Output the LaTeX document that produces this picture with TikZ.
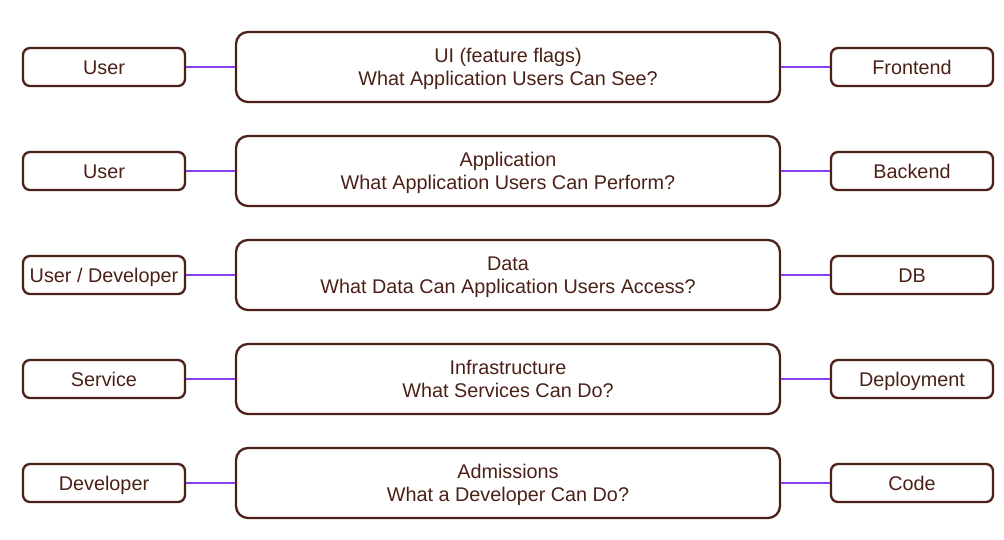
\documentclass[tikz,border=0pt]{standalone}
\usepackage{fontspec}
\setmainfont{Liberation Sans}
\definecolor{brn}{HTML}{4A2017}
\definecolor{prp}{HTML}{8A3FF5}
\begin{document}
\begin{tikzpicture}[x=1pt,y=-1pt,
  sidebox/.style={draw=brn,line width=2.3pt,rounded corners=7pt,minimum width=162pt,minimum height=38pt,inner sep=0pt,text height=14.2pt,text depth=0pt,text=brn,font=\fontsize{19.8}{23}\selectfont},
  midbox/.style={draw=brn,line width=2.3pt,rounded corners=12pt,minimum width=544pt,minimum height=70pt,inner sep=0pt,text depth=0pt,text=brn,align=center,font=\fontsize{19.8}{23}\selectfont},
  link/.style={draw=prp,line width=2.8pt}]
\useasboundingbox (0,0) rectangle (1004,540);
\node[sidebox] (l1) at (104,67) {User};
\node[midbox] (m1) at (508,67) {UI (feature flags)\\What Application Users Can See?};
\node[sidebox] (r1) at (912,67) {Frontend};
\node[sidebox] (l2) at (104,171) {User};
\node[midbox] (m2) at (508,171) {Application\\What Application Users Can Perform?};
\node[sidebox] (r2) at (912,171) {Backend};
\node[sidebox] (l3) at (104,275) {User / Developer};
\node[midbox] (m3) at (508,275) {Data\\What Data Can Application Users Access?};
\node[sidebox] (r3) at (912,275) {DB};
\node[sidebox] (l4) at (104,379) {Service};
\node[midbox] (m4) at (508,379) {Infrastructure\\What Services Can Do?};
\node[sidebox] (r4) at (912,379) {Deployment};
\node[sidebox] (l5) at (104,483) {Developer};
\node[midbox] (m5) at (508,483) {Admissions\\What a Developer Can Do?};
\node[sidebox] (r5) at (912,483) {Code};
\foreach \k in {1,...,5}{
  \draw[link] (l\k) -- (m\k);
  \draw[link] (m\k) -- (r\k);
}
\end{tikzpicture}
\end{document}
